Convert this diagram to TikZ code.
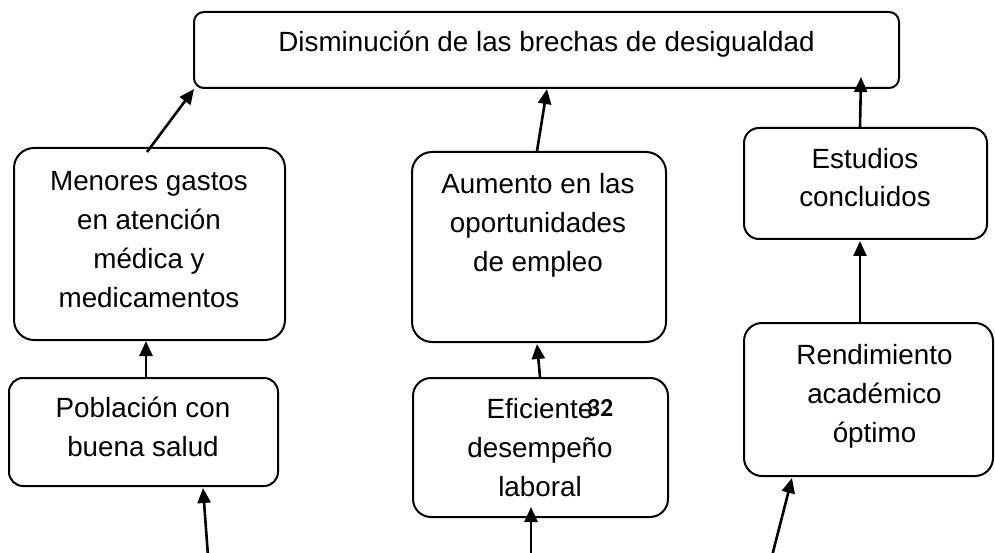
\documentclass[tikz,border=0pt]{standalone}
\usepackage{fontspec}
\setmainfont{Liberation Sans}
\newfontfamily\pagenumfont{Carlito}
\usetikzlibrary{arrows.meta,calc}
\begin{document}
\begin{tikzpicture}[x=1pt,y=-1pt,
  box/.style={draw, line width=2pt, rounded corners=#1, inner sep=0pt},
  txt/.style={anchor=base, align=center, inner sep=0pt, font=\fontsize{27.8}{38.9}\selectfont},
  arr/.style={-{Triangle[length=15pt,width=13pt]}, line width=2.6pt}]
\useasboundingbox (0,0) rectangle (995,553);
% boxes
\node[box=10pt, minimum width=705pt, minimum height=76pt] (top) at (546.5,50) {};
\node[box=20pt, minimum width=271pt, minimum height=192pt] (menores) at (149.5,244) {};
\node[box=20pt, minimum width=254pt, minimum height=190pt] (aumento) at (539,247) {};
\node[box=15pt, minimum width=243pt, minimum height=111pt] (estudios) at (865.5,183.5) {};
\node[box=14pt, minimum width=269pt, minimum height=108pt] (poblacion) at (143.5,432) {};
\node[box=18pt, minimum width=255pt, minimum height=139pt] (eficiente) at (540.5,447.5) {};
\node[box=18pt, minimum width=249pt, minimum height=153pt] (rendimiento) at (868.5,399.5) {};
% texts (anchored at the baseline of their last line)
\node[txt] (ttop) at (546.5,52) {Disminución de las brechas de desigualdad};
\node[txt] (tmenores) at (149,307.5) {Menores gastos\\en atención\\médica y\\medicamentos};
\node[txt] (taumento) at (538,271) {Aumento en las\\oportunidades\\de empleo};
\node[txt] (testudios) at (865,207) {Estudios\\concluidos};
\node[txt] (tpoblacion) at (143,456.5) {Población con\\buena salud};
\node[txt] (teficiente) at (540,496.5) {Eficiente\\desempeño\\laboral};
\node[txt] (trendimiento) at (874.5,442.5) {Rendimiento\\académico\\óptimo};
\node[anchor=base, inner sep=0pt, font=\pagenumfont\bfseries\fontsize{26}{30}\selectfont] (pnum) at (600,416) {32};
% free ends at the lower edge
\coordinate (b1) at (208,556);
\coordinate (b2) at (531,556);
\coordinate (b3) at (772,556);
% connectors
\draw[arr] ($(menores.north)+(-2.5,5)$) -- ($(top.south west)+(1,0)$);
\draw[arr] ($(aumento.north)+(-2,0)$) -- ($(top.south)+(0.5,0)$);
\draw[arr] ($(estudios.north)+(-5.5,0)$) -- ($(top.south east)+(-39,-12)$);
\draw[arr] ($(poblacion.north)+(2.5,0)$) -- ($(menores.south)+(-3.5,0)$);
\draw[arr] ($(eficiente.north)+(-0.5,0)$) -- ($(aumento.south)+(-2,1)$);
\draw[arr] ($(rendimiento.north)+(-8.5,0)$) -- ($(estudios.south)+(-5.5,1)$);
\draw[arr] (b1) -- ($(poblacion.south)+(59.5,1)$);
\draw[arr] (b2) -- ($(eficiente.south)+(-9.5,-11)$);
\draw[arr] (b3) -- ($(rendimiento.south)+(-76.5,1)$);
\end{tikzpicture}
\end{document}
